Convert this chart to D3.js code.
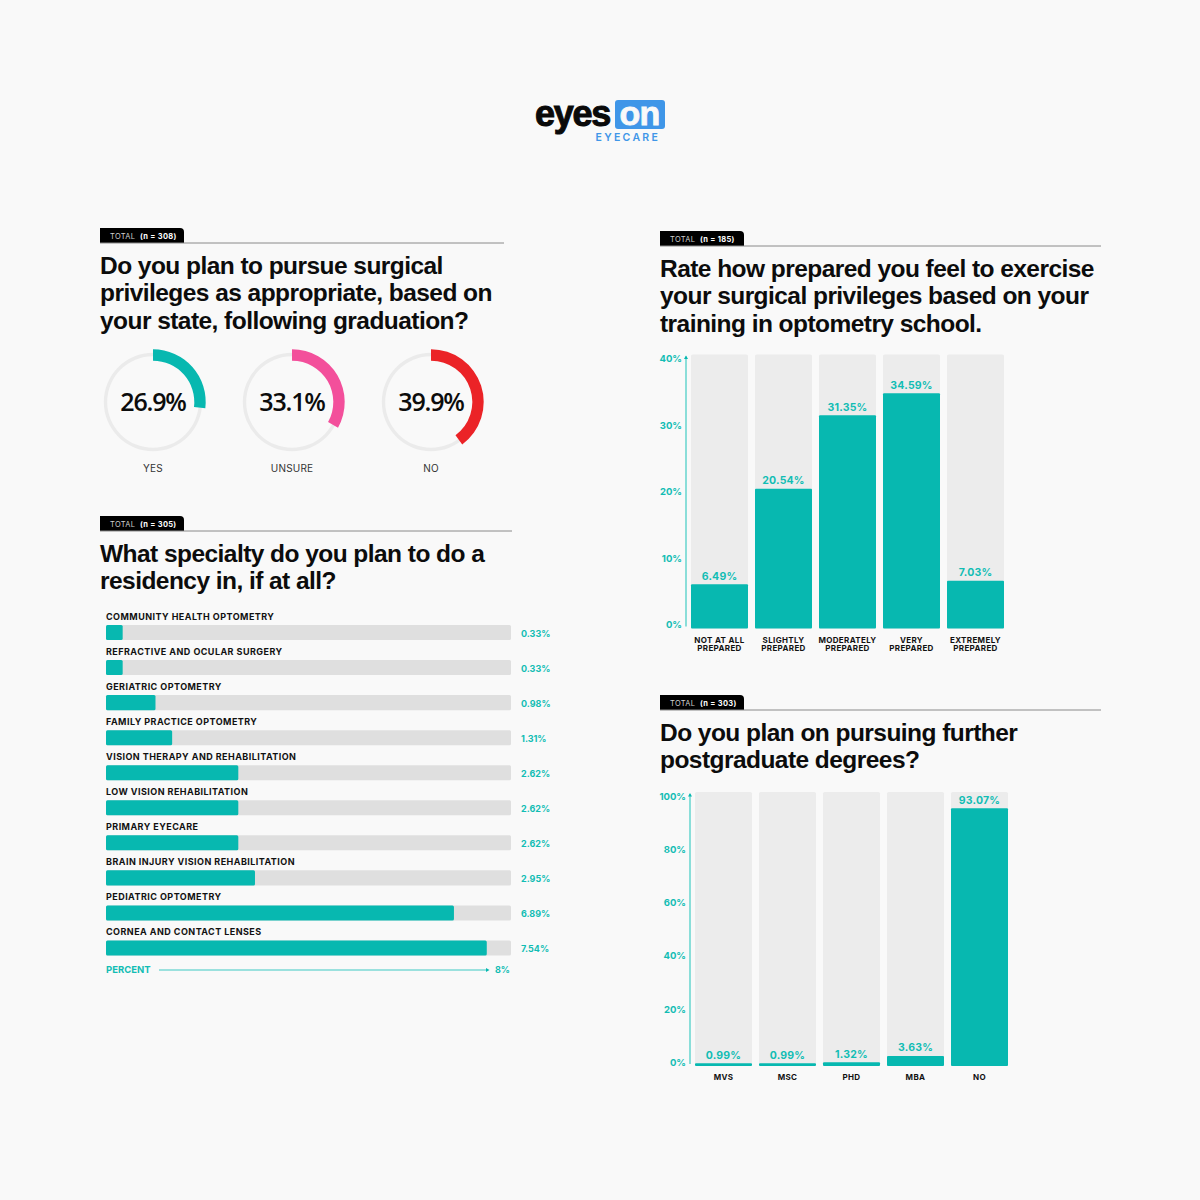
<!DOCTYPE html>
<html>
<head>
<meta charset="utf-8">
<script src="https://d3js.org/d3.v7.min.js"></script>
<style>
  html, body { margin: 0; padding: 0; background: #f9f9f9; }
  svg { display: block; }
  text { font-family: Inter, "Noto Sans", sans-serif; }
  .title { font-family: "Liberation Sans", sans-serif; font-weight: 700; font-size: 24.5px; fill: #0c0c0c; letter-spacing: -0.55px; }
  .tag { font-size: 7.5px; fill: #cfcfcf; letter-spacing: 0.3px; }
  .tagn { font-size: 7.5px; fill: #fff; font-weight: 700; letter-spacing: 0.3px; }
  .val { font-size: 10.5px; font-weight: 700; fill: #12bdb4; text-anchor: middle; letter-spacing: 0.2px; }
  .cat { font-size: 8px; font-weight: 700; fill: #111; text-anchor: middle; letter-spacing: 0.35px; }
  .axis text { font-size: 9.5px; font-weight: 700; fill: #12bdb4; font-family: Inter, sans-serif; }
</style>
</head>
<body>
<div id="chart"></div>
<script>
var teal = "#07b8b0", trackLight = "#ececec", trackDark = "#dfdfdf";

// surgical privileges donuts
var donutLabels = ["YES", "UNSURE", "NO"];
var donutValues = [26.9, 33.1, 39.9];
var donutColors = [teal, "#f34f9b", "#eb2327"];

// residency specialties
var specialties = ["COMMUNITY HEALTH OPTOMETRY", "REFRACTIVE AND OCULAR SURGERY", "GERIATRIC OPTOMETRY",
  "FAMILY PRACTICE OPTOMETRY", "VISION THERAPY AND REHABILITATION", "LOW VISION REHABILITATION",
  "PRIMARY EYECARE", "BRAIN INJURY VISION REHABILITATION", "PEDIATRIC OPTOMETRY", "CORNEA AND CONTACT LENSES"];
var specialtyValues = [0.33, 0.33, 0.98, 1.31, 2.62, 2.62, 2.62, 2.95, 6.89, 7.54];

// how prepared
var preparedCats = [["NOT AT ALL", "PREPARED"], ["SLIGHTLY", "PREPARED"], ["MODERATELY", "PREPARED"], ["VERY", "PREPARED"], ["EXTREMELY", "PREPARED"]];
var preparedValues = [6.49, 20.54, 31.35, 34.59, 7.03];
var preparedTicks = [0, 10, 20, 30, 40];

// further degrees
var degreeCats = [["MVS"], ["MSC"], ["PHD"], ["MBA"], ["NO"]];
var degreeValues = [0.99, 0.99, 1.32, 3.63, 93.07];
var degreeTicks = [0, 20, 40, 60, 80, 100];

var svg = d3.select("#chart").append("svg")
  .attr("width", 1200)
  .attr("height", 1200);

svg.append("rect").attr("width", 1200).attr("height", 1200).attr("fill", "#f9f9f9");

// logo, thickened with a stroke because no heavy face of this font is installed
var logo = svg.append("g");
logo.append("text").text("eyes")
  .attr("x", 535).attr("y", 125.5)
  .style("font-family", "'Liberation Sans'").style("font-weight", 700)
  .style("font-size", "36px").style("letter-spacing", "-1.3px")
  .attr("fill", "#0a0a0a").attr("stroke", "#0a0a0a").attr("stroke-width", 1);
logo.append("rect").attr("x", 615).attr("y", 100).attr("width", 50).attr("height", 29).attr("rx", 3).attr("fill", "#3f96e8");
logo.append("text").text("on")
  .attr("x", 639.5).attr("y", 125).attr("text-anchor", "middle")
  .style("font-family", "'Liberation Sans'").style("font-weight", 700)
  .style("font-size", "34px").style("letter-spacing", "-0.8px")
  .attr("fill", "#f9f9f9").attr("stroke", "#f9f9f9").attr("stroke-width", 0.8);
logo.append("text").text("EYECARE")
  .attr("x", 595.5).attr("y", 141)
  .style("font-size", "10.5px").style("font-weight", 600).style("letter-spacing", "2.3px").attr("fill", "#3f96e8");

// black tab, rule and question title
function header(x, y, ruleEnd, n, lines, firstBaseline) {
  svg.append("path")
    .attr("d", "M" + x + "," + y + "H" + (x + 80) + "q4,0 4,4V" + (y + 15) + "H" + x + "Z")
    .attr("fill", "#000");
  svg.append("line")
    .attr("x1", x).attr("x2", ruleEnd).attr("y1", y + 15).attr("y2", y + 15)
    .attr("stroke", "#8a8a8a").attr("stroke-width", 1);
  svg.append("text").attr("class", "tag").attr("x", x + 10).attr("y", y + 10.5).text("TOTAL");
  svg.append("text").attr("class", "tagn").attr("x", x + 40).attr("y", y + 10.5).text("(n = " + n + ")");
  svg.selectAll(null)
    .data(lines)
    .enter()
    .append("text")
    .attr("class", "title")
    .attr("x", x)
    .attr("y", function(d, i) { return firstBaseline + i * 27.4; })
    .text(function(d) { return d; });
}

header(100, 228, 504, 308, ["Do you plan to pursue surgical", "privileges as appropriate, based on", "your state, following graduation?"], 274);
header(100, 516, 512, 305, ["What specialty do you plan to do a", "residency in, if at all?"], 562);
header(660, 231, 1101, 185, ["Rate how prepared you feel to exercise", "your surgical privileges based on your", "training in optometry school."], 277);
header(660, 695, 1101, 303, ["Do you plan on pursuing further", "postgraduate degrees?"], 741);

// donuts
var donutX = d3.scaleBand().domain(donutLabels).range([83.5, 500.5]);
var angle = d3.scaleLinear().domain([0, 100]).range([0, 2 * Math.PI]);
var trackArc = d3.arc().innerRadius(45.8).outerRadius(49.2).startAngle(0).endAngle(2 * Math.PI);
var valueArc = d3.arc().innerRadius(41.3).outerRadius(52.7).startAngle(0).endAngle(function(d) { return angle(d); });

var donuts = svg.selectAll(".donut")
  .data(donutValues)
  .enter()
  .append("g")
  .attr("class", "donut")
  .attr("transform", function(d, i) {
    return "translate(" + (donutX(donutLabels[i]) + donutX.bandwidth() / 2) + ",402)";
  });
donuts.append("path").attr("d", trackArc()).attr("fill", "#ebebeb");
donuts.append("path").attr("d", function(d) { return valueArc(d); })
  .attr("fill", function(d, i) { return donutColors[i]; });
donuts.append("text")
  .attr("text-anchor", "middle").attr("y", 9)
  .style("font-family", "'Open Sans'")
  .style("font-size", "25px").style("font-weight", 600).style("letter-spacing", "-1.2px")
  .attr("fill", "#0c0c0c")
  .text(function(d) { return d + "%"; });
donuts.append("text")
  .attr("text-anchor", "middle").attr("y", 69.5)
  .style("font-size", "10px").style("letter-spacing", "0.2px").attr("fill", "#333")
  .text(function(d, i) { return donutLabels[i]; });

// horizontal bars
var hx = d3.scaleLinear().domain([0, 8]).range([106, 510]);
var hy = d3.scaleBand().domain(specialties).range([625, 955.5]).paddingInner(20 / 35);

svg.selectAll(".htrack")
  .data(specialties)
  .enter()
  .append("rect")
  .attr("class", "htrack")
  .attr("x", hx(0)).attr("y", function(d) { return hy(d); })
  .attr("width", hx(8) - hx(0) + 1).attr("height", hy.bandwidth())
  .attr("rx", 1.5).attr("fill", trackDark);

svg.selectAll(".hbar")
  .data(specialtyValues)
  .enter()
  .append("rect")
  .attr("class", "hbar")
  .attr("x", hx(0)).attr("y", function(d, i) { return hy(specialties[i]); })
  .attr("width", function(d) { return hx(d) - hx(0); }).attr("height", hy.bandwidth())
  .attr("rx", 1.5).attr("fill", teal);

svg.selectAll(".hname")
  .data(specialties)
  .enter()
  .append("text")
  .attr("class", "hname")
  .attr("x", 106).attr("y", function(d) { return hy(d) - 5; })
  .style("font-size", "9px").style("font-weight", 700).style("letter-spacing", "0.45px").attr("fill", "#111")
  .text(function(d) { return d; });

svg.selectAll(".hval")
  .data(specialtyValues)
  .enter()
  .append("text")
  .attr("class", "hval")
  .attr("x", 521).attr("y", function(d, i) { return hy(specialties[i]) + 12; })
  .style("font-size", "9px").style("font-weight", 700).attr("fill", "#12bdb4")
  .text(function(d) { return d.toFixed(2) + "%"; });

svg.append("text").attr("x", 106).attr("y", 973)
  .style("font-size", "9.5px").style("font-weight", 700).attr("fill", "#12bdb4").text("PERCENT");
svg.append("line").attr("x1", 159).attr("x2", 488).attr("y1", 970).attr("y2", 970)
  .attr("stroke", "#3fcac3").attr("stroke-width", 1.2);
svg.append("path").attr("d", "M486,968L489.5,970L486,972Z").attr("fill", teal);
svg.append("text").attr("x", 495).attr("y", 973)
  .style("font-size", "9px").style("font-weight", 700).attr("fill", "#12bdb4").text("8%");

// vertical bar chart
function columns(o) {
  var x = d3.scaleBand().domain(d3.range(o.values.length)).range([o.left, o.left + 313]).paddingInner(7 / 64);
  var y = d3.scaleLinear().domain([0, o.max]).range([o.base, o.scaleTop]);
  var tickY = d3.scaleLinear().domain([0, o.max]).range(o.tickRange);

  var g = svg.append("g");
  g.selectAll(".track")
    .data(o.values)
    .enter()
    .append("rect")
    .attr("x", function(d, i) { return x(i); })
    .attr("y", o.top)
    .attr("width", x.bandwidth())
    .attr("height", o.base - o.top)
    .attr("rx", 1.5)
    .attr("fill", trackLight);
  g.selectAll(".col")
    .data(o.values)
    .enter()
    .append("rect")
    .attr("x", function(d, i) { return x(i); })
    .attr("y", function(d) { return y(d); })
    .attr("width", x.bandwidth())
    .attr("height", function(d) { return o.base - y(d); })
    .attr("rx", 1)
    .attr("fill", teal);
  g.selectAll(".val")
    .data(o.values)
    .enter()
    .append("text")
    .attr("class", "val")
    .attr("x", function(d, i) { return x(i) + x.bandwidth() / 2; })
    .attr("y", function(d) { return y(d) - 4.5; })
    .text(function(d) { return d.toFixed(2) + "%"; });
  o.cats.forEach(function(lines, i) {
    lines.forEach(function(line, j) {
      g.append("text").attr("class", "cat")
        .attr("x", x(i) + x.bandwidth() / 2)
        .attr("y", o.catY + j * 8.5)
        .text(line);
    });
  });

  var axis = g.append("g")
    .attr("class", "axis")
    .attr("transform", "translate(" + (o.left - 9) + ",0)")
    .call(d3.axisLeft(tickY).tickValues(o.ticks).tickSize(0).tickPadding(0).tickFormat(function(d) { return d + "%"; }));
  axis.select(".domain").remove();

  g.append("line")
    .attr("x1", o.left - 5).attr("x2", o.left - 5)
    .attr("y1", o.tickRange[1] - 2).attr("y2", o.base - 2)
    .attr("stroke", "#4fcfc8").attr("stroke-width", 1.3);
  g.append("path")
    .attr("d", "M" + (o.left - 7) + "," + (o.tickRange[1] + 0.5) + "L" + (o.left - 5) + "," + (o.tickRange[1] - 3) + "L" + (o.left - 3) + "," + (o.tickRange[1] + 0.5) + "Z")
    .attr("fill", teal);
}

columns({ left: 691, top: 354.5, base: 628.5, scaleTop: 356.5, max: 40, tickRange: [624.5, 358.5], values: preparedValues, cats: preparedCats, ticks: preparedTicks, catY: 642.5 });
columns({ left: 695, top: 792, base: 1066, scaleTop: 789, max: 100, tickRange: [1062.5, 796], values: degreeValues, cats: degreeCats, ticks: degreeTicks, catY: 1080 });
</script>
</body>
</html>
